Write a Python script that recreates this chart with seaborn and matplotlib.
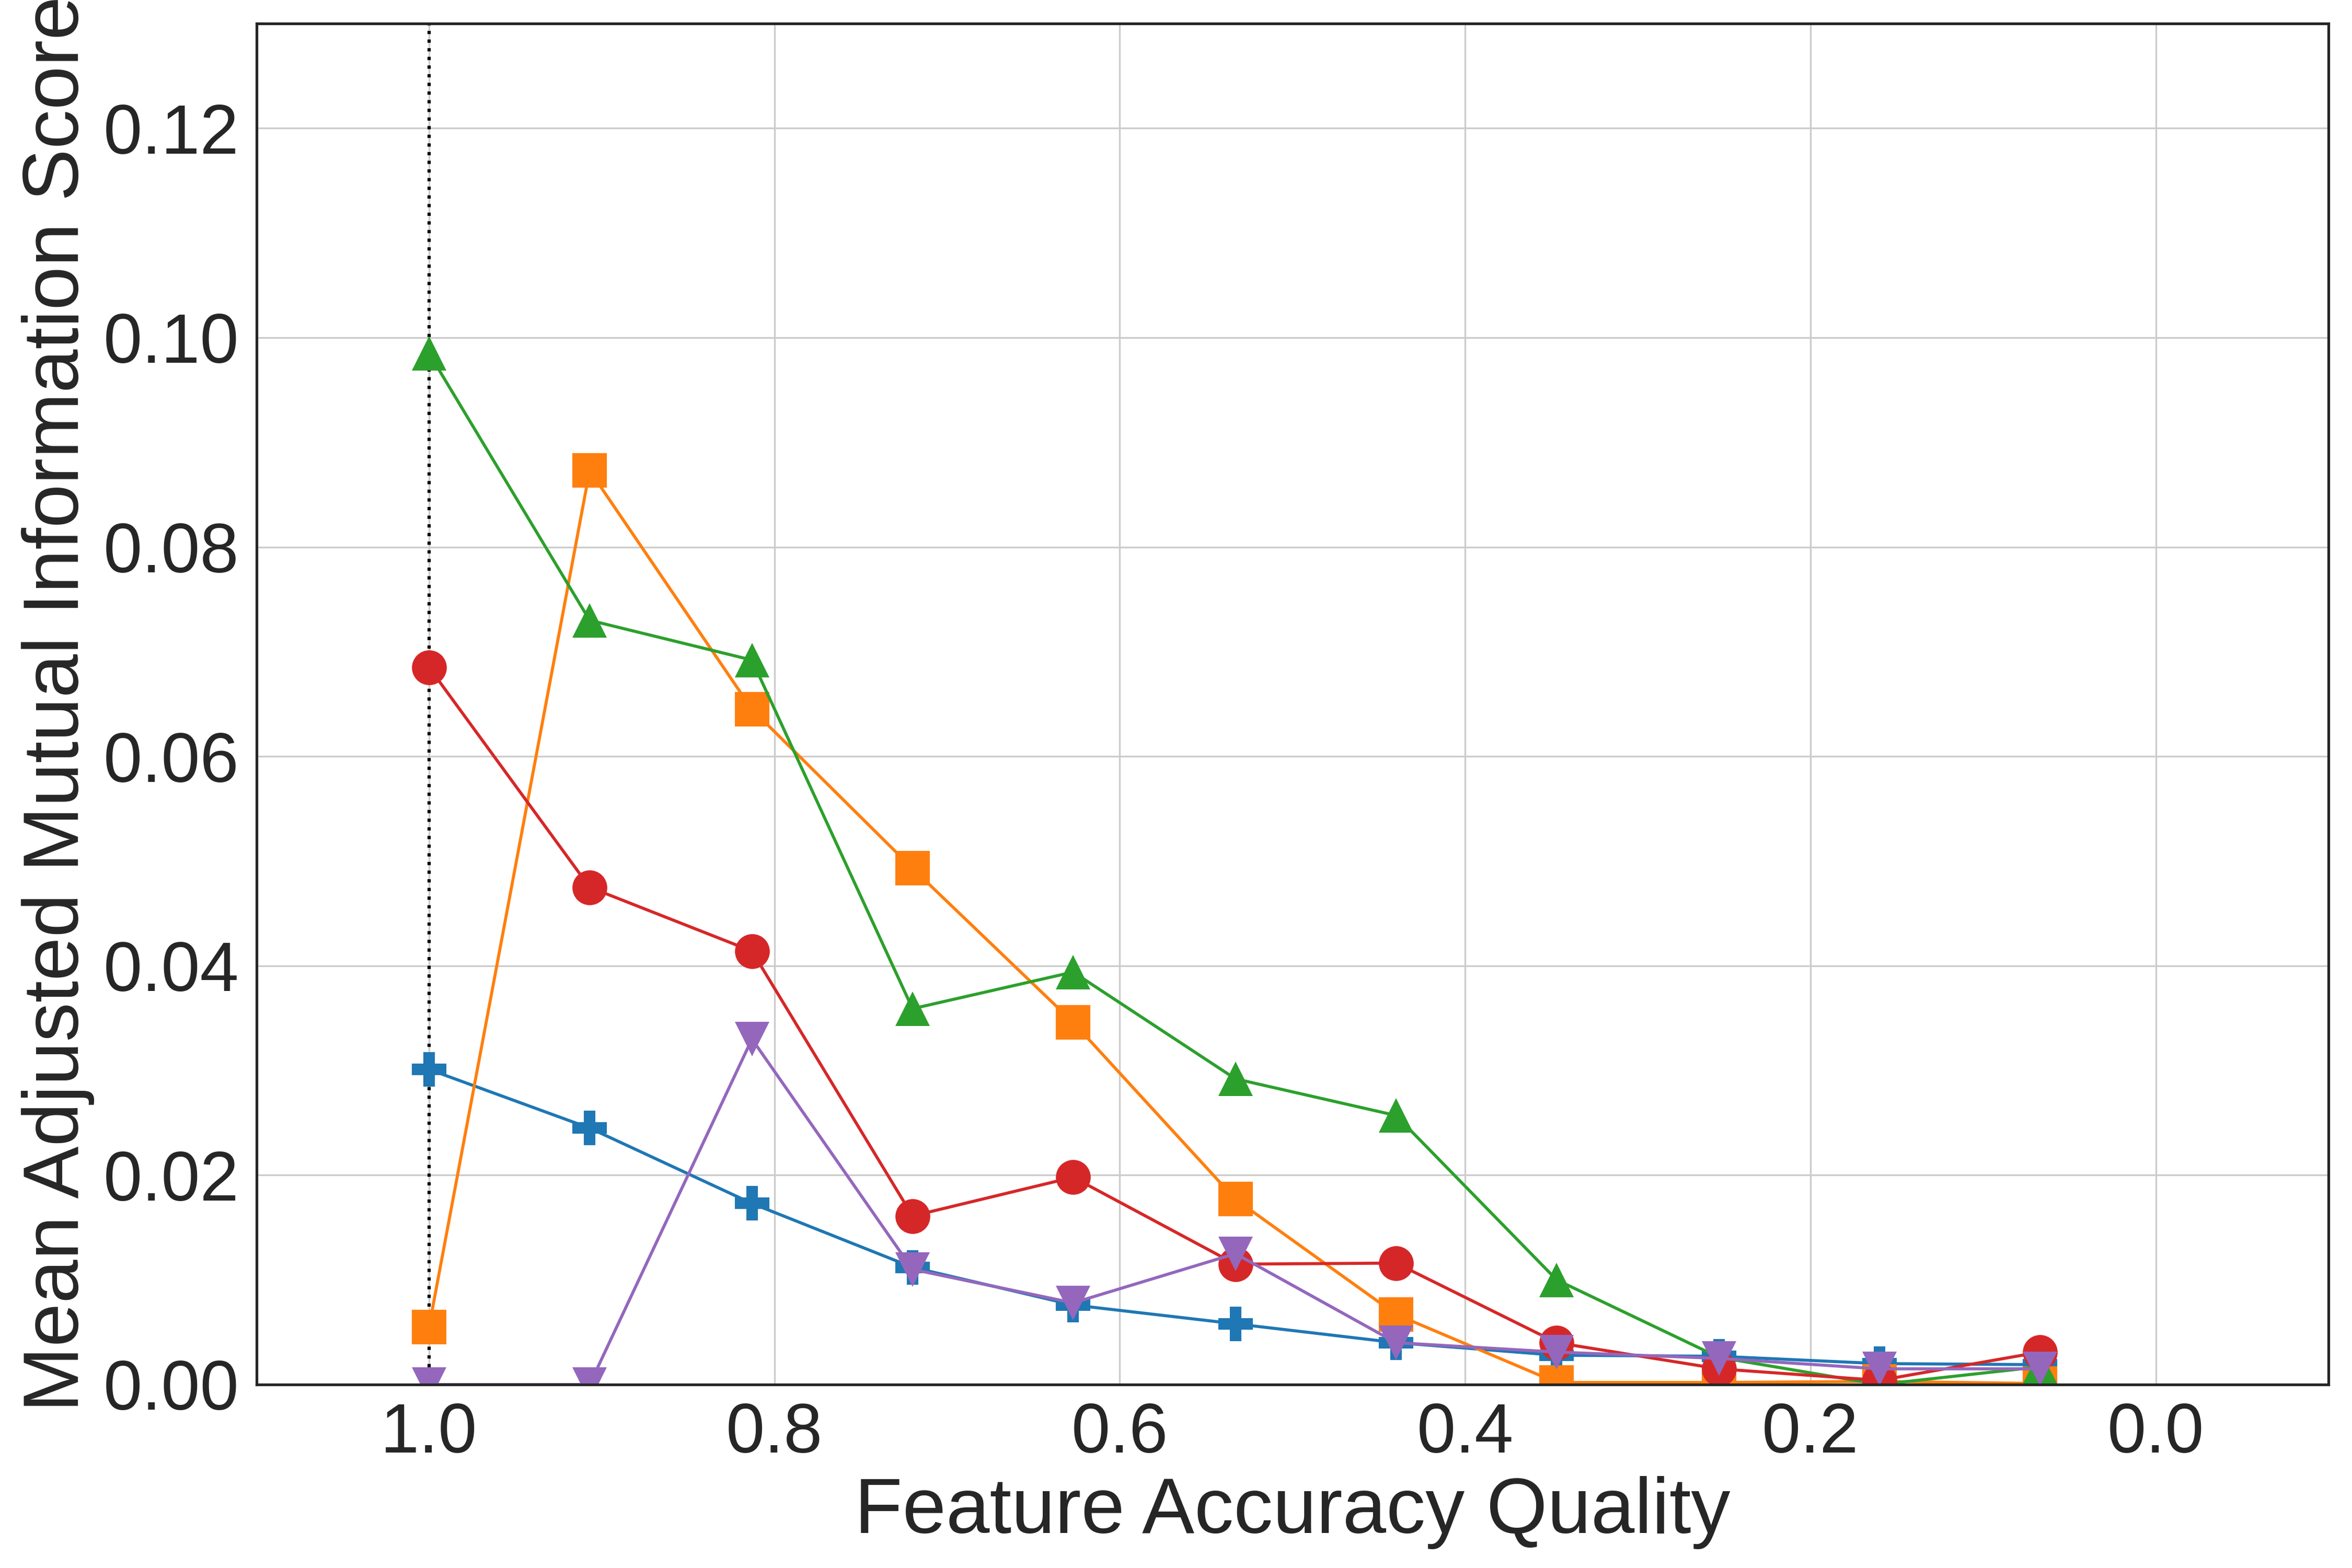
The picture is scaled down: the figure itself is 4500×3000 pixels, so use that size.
import matplotlib
matplotlib.use("Agg")
import matplotlib.pyplot as plt
import seaborn as sns
import numpy as np

# ---- data ----
quality = [1.0, 0.907, 0.813, 0.72, 0.627, 0.533, 0.44, 0.347, 0.253, 0.16, 0.067]

blue_plus = [0.0301, 0.0245, 0.0173, 0.0112, 0.0076, 0.0058, 0.0040, 0.0028, 0.0027, 0.0020, 0.0019]
orange_square = [0.0055, 0.0873, 0.0645, 0.0493, 0.0346, 0.0177, 0.0067, 0.0002, 0.0002, 0.0003, 0.0001]
green_triangle = [0.0985, 0.0730, 0.0692, 0.0359, 0.0394, 0.0292, 0.0257, 0.0100, 0.0026, 0.0000, 0.0017]
red_circle = [0.0685, 0.0475, 0.0414, 0.0161, 0.0198, 0.0115, 0.0116, 0.0040, 0.0015, 0.0004, 0.0031]
purple_tri_down = [0.0, 0.0, 0.0330, 0.0110, 0.0078, 0.0125, 0.0040, 0.0031, 0.0025, 0.0015, 0.0015]

series = [blue_plus, orange_square, green_triangle, red_circle, purple_tri_down]
colors = ["#1f77b4", "#ff7f0e", "#2ca02c", "#d62728", "#9467bd"]
markers = ["P", "s", "^", "o", "v"]

x_label = "Feature Accuracy Quality"
y_label = "Mean Adjusted Mutual Information Score"

# ---- style ----
sns.set_style("whitegrid", {"axes.edgecolor": ".15", "grid.color": ".8"})
plt.rcParams["font.family"] = ["Liberation Sans", "DejaVu Sans"]

fig, ax = plt.subplots(figsize=(15, 10), dpi=300)
fig.subplots_adjust(left=0.109, right=0.990, top=0.985, bottom=0.117)

ax.axvline(1.0, color="black", linestyle=":", linewidth=1.5, zorder=1.5)

for vals, c, m in zip(series, colors, markers):
    sns.lineplot(x=quality, y=vals, color=c, marker=m, markersize=16,
                 markeredgewidth=0, linewidth=1.4, ax=ax)

ax.set_xlim(1.1, -0.1)
ax.set_ylim(0, 0.13)
ax.set_xticks([1.0, 0.8, 0.6, 0.4, 0.2, 0.0])
ax.set_yticks([0.0, 0.02, 0.04, 0.06, 0.08, 0.10, 0.12])
ax.set_xticklabels(["1.0", "0.8", "0.6", "0.4", "0.2", "0.0"])
ax.set_yticklabels(["0.00", "0.02", "0.04", "0.06", "0.08", "0.10", "0.12"])
ax.tick_params(axis="both", labelsize=32, pad=8, length=0)
ax.grid(True, color=".8", linewidth=0.8)
for s in ax.spines.values():
    s.set_color(".15")
    s.set_linewidth(1.25)

ax.set_xlabel(x_label, fontsize=36)
ax.set_ylabel(y_label, fontsize=36)

fig.savefig("out.png", dpi=300)
